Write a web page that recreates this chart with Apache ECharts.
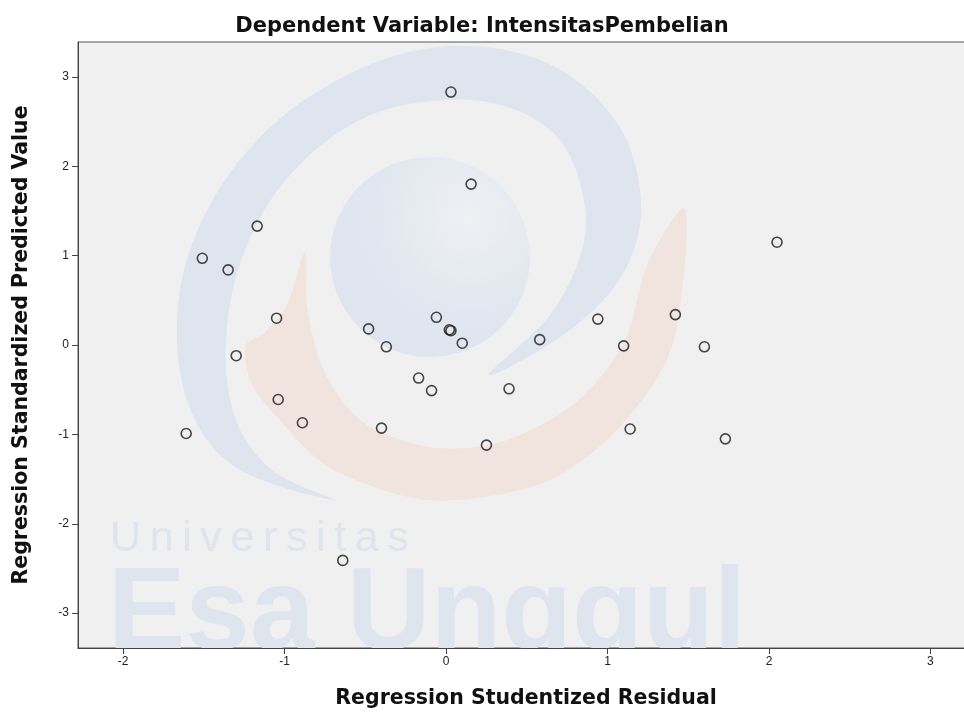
<!DOCTYPE html>
<html>
<head>
<meta charset="utf-8">
<script src="https://cdn.jsdelivr.net/npm/echarts@6/dist/echarts.min.js"></script>
<style>
  html, body { margin: 0; padding: 0; background: #fff; }
  #chart { width: 964px; height: 718px; }
</style>
</head>
<body>
<div id="chart"></div>
<script>
// residual (x) vs predicted (y)
var residual = [0.03, 0.155, 2.05, -1.17, -1.51, -1.35, -1.05, -1.30, -0.48, -0.37,
  -0.06, 0.02, 0.03, 0.10, 0.58, 0.94, 1.10, 1.42, 1.60, -0.17,
  -0.09, 0.39, -1.04, -0.89, -0.40, -1.61, 0.25, 1.14, 1.73, -0.64];
var predicted = [2.83, 1.80, 1.15, 1.33, 0.97, 0.84, 0.30, -0.12, 0.18, -0.02,
  0.31, 0.17, 0.16, 0.02, 0.06, 0.29, -0.01, 0.34, -0.02, -0.37,
  -0.51, -0.49, -0.61, -0.87, -0.93, -0.99, -1.12, -0.94, -1.05, -2.41];
var xTicks = [-2, -1, 0, 1, 2, 3];
var yTicks = [-3, -2, -1, 0, 1, 2, 3];

var points = residual.map(function (v, i) { return [v, predicted[i]]; });

var chart = echarts.init(document.getElementById('chart'));
var font = '"Liberation Sans", Arial, sans-serif';
var bold = '"DejaVu Sans", sans-serif';
var blue = '#dee5ef';
var pink = '#f1e4de';

// logo watermark di belakang titik
var swirlBlue = [
  [335, 500], [240, 470], [195, 420], [177, 340], [190, 250], [240, 160], [320, 90],
  [430, 48], [540, 60], [615, 120], [641, 200], [625, 270], [570, 330], [489, 375],
  [550, 315], [582, 250], [584, 200], [560, 140], [510, 108], [440, 100], [360, 120],
  [290, 175], [245, 250], [226, 340], [236, 420], [272, 470]
];
var swirlPink = [
  [305, 252], [287, 305], [264, 333], [246, 345], [250, 380], [268, 407], [329, 467],
  [429, 500], [543, 483], [614, 433], [668, 357], [684, 273], [684, 208], [648, 263],
  [625, 340], [579, 400], [507, 440], [436, 448], [364, 423], [325, 373], [307, 307]
];

chart.setOption({
  backgroundColor: '#ffffff',
  animation: false,
  title: {
    text: 'Dependent Variable: IntensitasPembelian',
    left: 'center',
    top: 11,
    textStyle: { fontFamily: bold, fontSize: 21, fontWeight: 'bold', color: '#111' }
  },
  grid: {
    left: 78, top: 42, right: -10, bottom: 70,
    outerBoundsMode: 'none',
    show: true, backgroundColor: '#f0f0f0', borderColor: '#555', borderWidth: 1
  },
  graphic: [
    { type: 'polygon', z: 1, silent: true,
      shape: { points: swirlBlue, smooth: 0.35 }, style: { fill: blue } },
    { type: 'polygon', z: 1, silent: true,
      shape: { points: swirlPink, smooth: 0.3 }, style: { fill: pink } },
    { type: 'circle', z: 1, silent: true,
      shape: { cx: 430, cy: 257, r: 100 },
      style: {
        fill: new echarts.graphic.RadialGradient(0.7, 0.3, 0.8, [
          { offset: 0, color: '#eef0f3' },
          { offset: 0.6, color: '#e1e7f0' },
          { offset: 1, color: blue }
        ])
      } },
    { type: 'text', z: 1, silent: true, left: 110, top: 518,
      style: { text: 'U\u2009n\u2009i\u2009v\u2009e\u2009r\u2009s\u2009i\u2009t\u2009a\u2009s',
        fontFamily: font, fontSize: 43, fill: '#dfe5ee' } },
    { type: 'text', z: 1, silent: true, left: 108, top: 559,
      style: { text: 'Esa Unggul', fontFamily: font, fontSize: 116, fontWeight: 'bold', fill: blue } },
    { type: 'rect', z: 1.5, silent: true,
      shape: { x: 0, y: 649, width: 964, height: 69 },
      style: { fill: '#ffffff' } }
  ],
  xAxis: {
    type: 'value', min: -2.28, max: 3.27, z: 3,
    name: 'Regression Studentized Residual',
    nameLocation: 'middle', nameGap: 40,
    nameTextStyle: { fontFamily: bold, fontSize: 20.5, fontWeight: 'bold', color: '#111' },
    splitLine: { show: false },
    axisLine: { onZero: false, lineStyle: { color: '#444', width: 1 } },
    axisTick: { customValues: xTicks, length: 6, lineStyle: { color: '#444' } },
    axisLabel: { customValues: xTicks, fontFamily: font, fontSize: 12, color: '#222', margin: 8 }
  },
  yAxis: {
    type: 'value', min: -3.39, max: 3.39, z: 3,
    name: 'Regression Standardized Predicted Value',
    nameLocation: 'middle', nameGap: 46,
    nameTextStyle: { fontFamily: bold, fontSize: 20.5, fontWeight: 'bold', color: '#111' },
    splitLine: { show: false },
    axisLine: { onZero: false, lineStyle: { color: '#444', width: 1 } },
    axisTick: { customValues: yTicks, length: 6, lineStyle: { color: '#444' } },
    axisLabel: { customValues: yTicks, fontFamily: font, fontSize: 12, color: '#222', margin: 9 }
  },
  series: [{
    type: 'scatter',
    data: points,
    symbol: 'circle',
    symbolSize: 10,
    z: 4,
    itemStyle: { color: 'rgba(0,0,0,0)', borderColor: '#1a1a1a', borderWidth: 1.6 }
  }]
});
</script>
</body>
</html>
